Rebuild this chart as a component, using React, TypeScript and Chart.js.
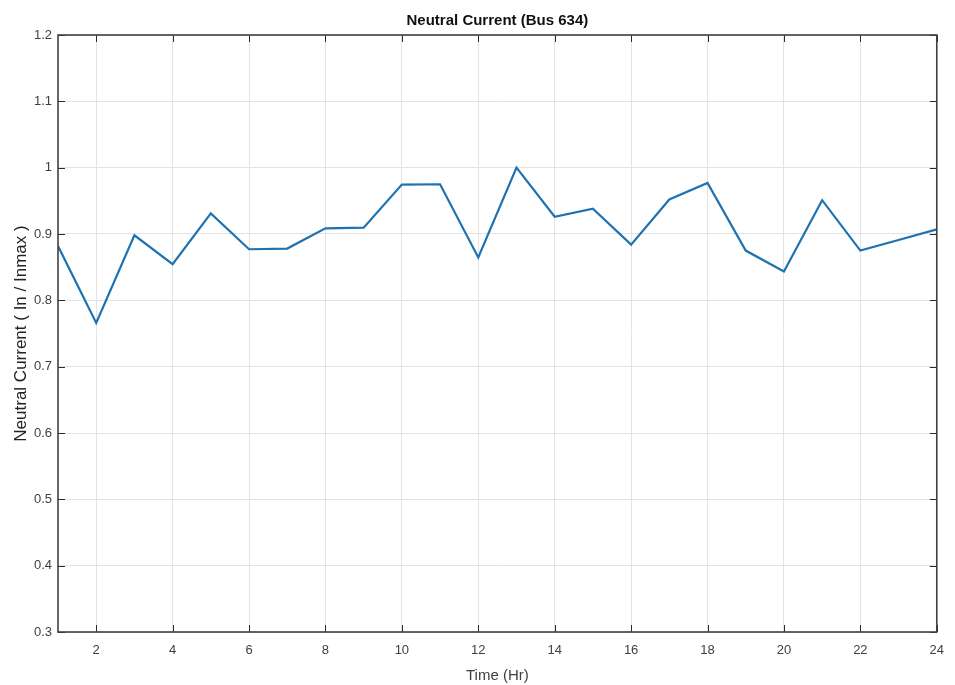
import React, { useEffect, useRef } from "react";
import { Chart, registerables } from "chart.js";

Chart.register(...registerables);

const hours = [1, 2, 3, 4, 5, 6, 7, 8, 9, 10, 11, 12, 13, 14, 15, 16, 17, 18, 19, 20, 21, 22, 23, 24];
const neutralCurrent = [0.882, 0.766, 0.898, 0.8545, 0.931, 0.877, 0.878, 0.9085, 0.9095, 0.9745, 0.975, 0.8645, 1.0, 0.926, 0.938, 0.884, 0.952, 0.977, 0.875, 0.8435, 0.951, 0.875, 0.891, 0.907];
const xTicks = [2, 4, 6, 8, 10, 12, 14, 16, 18, 20, 22, 24];
const yTicks = [0.3, 0.4, 0.5, 0.6, 0.7, 0.8, 0.9, 1.0, 1.1, 1.2];
const titleText = "Neutral Current (Bus 634)";
const xTitle = "Time (Hr)";
const yTitle = "Neutral Current ( In / Inmax )";

const FONT = "'Liberation Sans', Arial, Helvetica, sans-serif";

const boxPlugin = {
  id: "matlabBox",
  afterDraw(chart: any) {
    const { ctx, chartArea: a, scales } = chart;
    ctx.save();
    ctx.strokeStyle = "#2b2b2b";
    ctx.lineWidth = 1;
    const tl = 7;
    ctx.beginPath();
    for (const t of xTicks) {
      const x = Math.round(scales.x.getPixelForValue(t)) + 0.5;
      ctx.moveTo(x, a.bottom);
      ctx.lineTo(x, a.bottom - tl);
      ctx.moveTo(x, a.top);
      ctx.lineTo(x, a.top + tl);
    }
    for (const t of yTicks) {
      const y = Math.round(scales.y.getPixelForValue(t)) + 0.5;
      ctx.moveTo(a.left, y);
      ctx.lineTo(a.left + tl, y);
      ctx.moveTo(a.right, y);
      ctx.lineTo(a.right - tl, y);
    }
    ctx.stroke();
    ctx.strokeStyle = "#404040";
    ctx.lineWidth = 1.6;
    ctx.strokeRect(a.left, a.top, a.right - a.left, a.bottom - a.top);
    ctx.fillStyle = "#111";
    ctx.font = `bold 15px ${FONT}`;
    ctx.textAlign = "center";
    ctx.textBaseline = "middle";
    ctx.fillText(titleText, (a.left + a.right) / 2, 21);
    ctx.restore();
  },
};

export default function App() {
  const ref = useRef<HTMLCanvasElement | null>(null);
  useEffect(() => {
    if (!ref.current) return;
    const chart = new Chart(ref.current, {
      type: "line",
      data: {
        datasets: [
          {
            data: hours.map((h, i) => ({ x: h, y: neutralCurrent[i] })),
            borderColor: "#1f72b0",
            borderWidth: 2.2,
            pointRadius: 0,
            tension: 0,
            fill: false,
          },
        ],
      },
      options: {
        animation: false,
        responsive: false,
        maintainAspectRatio: false,
        layout: { padding: { top: 35, right: 18, bottom: 0, left: 0 } },
        plugins: { legend: { display: false }, tooltip: { enabled: false }, title: { display: false } },
        scales: {
          x: {
            type: "linear",
            min: 1,
            max: 24,
            afterBuildTicks: (s: any) => {
              s.ticks = xTicks.map((v) => ({ value: v }));
            },
            afterFit: (s: any) => {
              s.height = 53;
            },
            grid: { color: "#e3e3e3", drawTicks: false, lineWidth: 1 },
            border: { display: false },
            ticks: { color: "#404040", font: { family: FONT, size: 13 }, padding: 11, maxRotation: 0, autoSkip: false },
            title: { display: true, text: xTitle, color: "#404040", font: { family: FONT, size: 15 }, padding: { top: 3, bottom: 0 } },
          },
          y: {
            type: "linear",
            min: 0.3,
            max: 1.2,
            afterBuildTicks: (s: any) => {
              s.ticks = yTicks.map((v) => ({ value: v }));
            },
            afterFit: (s: any) => {
              s.width = 58;
            },
            grid: { color: "#e3e3e3", drawTicks: false, lineWidth: 1 },
            border: { display: false },
            ticks: {
              color: "#404040",
              font: { family: FONT, size: 13 },
              padding: 6,
              callback: (v: any) => String(Number(Number(v).toFixed(1))),
            },
            title: { display: true, text: yTitle, color: "#222", font: { family: FONT, size: 17 }, padding: { top: 11, bottom: 0 } },
          },
        },
      },
      plugins: [boxPlugin],
    });
    return () => chart.destroy();
  }, []);
  return (
    <div style={{ position: "fixed", left: 0, top: 0, width: 955, height: 685, background: "#fff" }}>
      <canvas ref={ref} width={955} height={685} style={{ width: 955, height: 685 }} />
    </div>
  );
}
